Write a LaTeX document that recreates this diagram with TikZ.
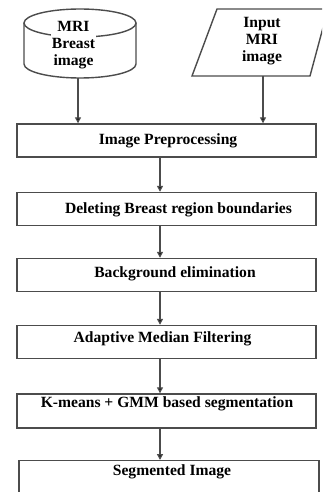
\documentclass[tikz,border=0pt]{standalone}
\usepackage{fontspec}
\setmainfont{Liberation Serif}
\usetikzlibrary{arrows.meta}
\begin{document}
\begin{tikzpicture}[x=1pt,y=-1pt,
  outline/.style={draw=black!70,line width=1.4pt},
  stepbox/.style={outline,rectangle,minimum width=299pt,minimum height=33pt,inner sep=0pt},
  lbl/.style={font=\fontsize{15.6}{18}\selectfont\bfseries,inner sep=0pt,align=center},
  arr/.style={draw=black!70,line width=1.3pt,-{Triangle[length=6pt,width=6pt,fill=black]}}]
\useasboundingbox (0,0) rectangle (322,492);
\clip (0,0) rectangle (322,492);
\fill[white] (0,0) rectangle (322,492);

% storage cylinder
\draw[outline] (24,23) -- (24,64) arc[start angle=180,end angle=360,x radius=56pt,y radius=14pt] -- (136,23);
\draw[outline] (80,23) ellipse[x radius=56pt,y radius=14pt];
\node[lbl,fill=white,inner sep=1pt] (db) at (73.5,45.5) {MRI\\[-1pt]Breast\\[-1pt]image};
\coordinate (dbout) at (78,78);

% input parallelogram
\draw[outline] (192,76) -- (217,9) -- (328,9) -- (310,76) -- cycle;
\node[lbl] (inp) at (262,41.5) {Input\\[-1pt]MRI\\[-1pt]image};
\coordinate (inout) at (263,76);

% processing steps
\node[stepbox] (b1) at (166.5,140.5) {};
\node[stepbox] (b2) at (166.5,209) {};
\node[stepbox] (b3) at (166.5,275) {};
\node[stepbox] (b4) at (166.5,342) {};
\node[stepbox,minimum height=34pt] (b5) at (166.5,411) {};
\node[stepbox,minimum width=300pt,minimum height=60pt,anchor=north] (b6) at (169,460) {};

\node[lbl] (t1) at (168,141) {Image Preprocessing};
\node[lbl] (t2) at (178.5,209.5) {Deleting Breast region boundaries};
\node[lbl] (t3) at (175,274) {Background elimination};
\node[lbl] (t4) at (162.5,339) {Adaptive Median Filtering};
\node[lbl] (t5) at (167,404) {K-means + GMM based segmentation};
\node[lbl] (t6) at (172,472) {Segmented Image};

% connectors
\coordinate (col) at (160,0);
\draw[arr] (dbout) -- (dbout |- b1.north);
\draw[arr] (inout) -- (inout |- b1.north);
\draw[arr] (b1.south -| col) -- (b2.north -| col);
\draw[arr] (b2.south -| col) -- (b3.north -| col);
\draw[arr] (b3.south -| col) -- (b4.north -| col);
\draw[arr] (b4.south -| col) -- (b5.north -| col);
\draw[arr] (b5.south -| col) -- (b6.north -| col);
\end{tikzpicture}
\end{document}
